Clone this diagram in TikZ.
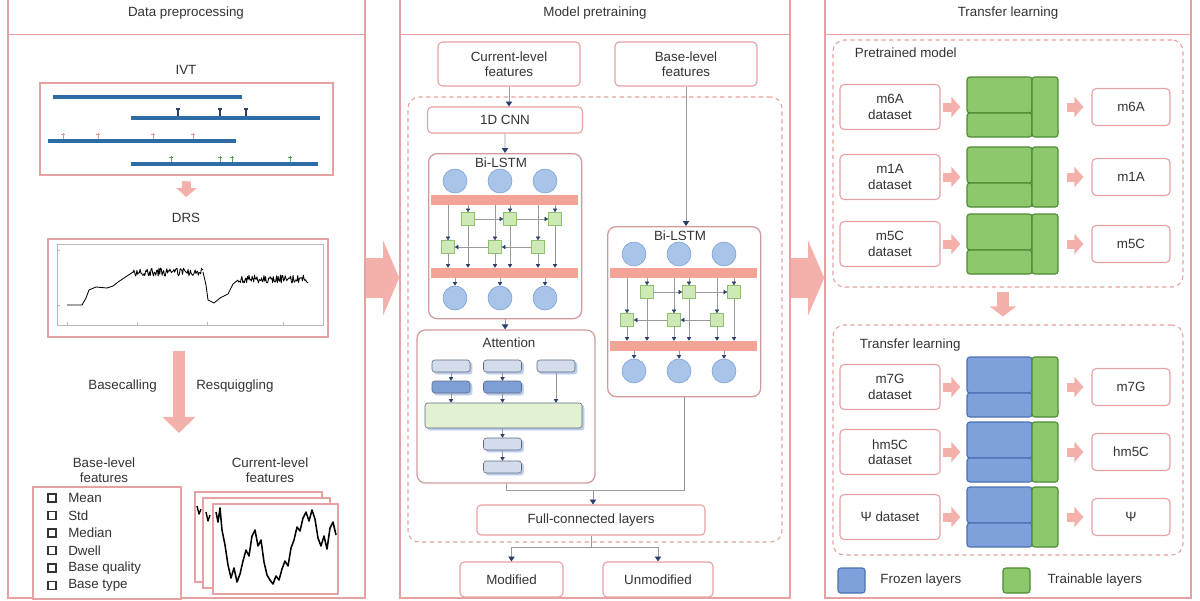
\documentclass[tikz,border=0pt]{standalone}
\usepackage{fontspec}
\setmainfont{Liberation Sans}
\usetikzlibrary{arrows.meta,positioning,calc,shadows}

\newlength\pxu
\setlength\pxu{0.025cm}

\definecolor{panelpink}{HTML}{E6A2A2}
\definecolor{arrowpink}{HTML}{F4B0AA}
\definecolor{bandpink}{HTML}{F3A497}
\definecolor{ivtblue}{HTML}{2D6CA5}
\definecolor{cellblue}{HTML}{A8C4E9}
\definecolor{cellline}{HTML}{7C9FD1}
\definecolor{gatefill}{HTML}{CFE8B8}
\definecolor{gateline}{HTML}{8EC26E}
\definecolor{trainfill}{HTML}{8DC96C}
\definecolor{trainline}{HTML}{4D8A33}
\definecolor{frozenfill}{HTML}{7FA1DB}
\definecolor{frozenline}{HTML}{4C70B2}
\definecolor{headblue}{HTML}{2A3F6B}
\definecolor{linegray}{HTML}{9A9A9A}
\definecolor{textgray}{HTML}{333333}
\definecolor{qfill}{HTML}{D3DCEA}
\definecolor{qline}{HTML}{5C6B82}
\definecolor{kfill}{HTML}{7E9ED6}
\definecolor{barfill}{HTML}{E3F1D3}
\definecolor{shadowblue}{HTML}{BCCDEB}

\begin{document}
\begin{tikzpicture}[
    x=0.025cm, y=-0.025cm,
    font=\fontsize{9.5}{11}\selectfont, text=textgray,
    panel/.style={draw=panelpink, line width=1.1pt, inner sep=0pt},
    framebox/.style={draw=panelpink, line width=0.9pt, fill=white, inner sep=0pt},
    featbox/.style={draw=panelpink, rounded corners=3pt, line width=0.8pt, fill=white, align=center, inner sep=0pt},
    dashbox/.style={draw=panelpink, dash pattern=on 3pt off 2.5pt, rounded corners=8pt, line width=0.8pt, inner sep=0pt},
    lstmbox/.style={draw=panelpink!80!gray, rounded corners=6pt, line width=0.9pt, inner sep=0pt},
    cell/.style={circle, draw=cellline, fill=cellblue, minimum size=24\pxu, inner sep=0pt},
    band/.style={fill=bandpink, minimum width=147\pxu, minimum height=10\pxu, inner sep=0pt},
    gate/.style={draw=gateline, fill=gatefill, minimum size=13\pxu, inner sep=0pt},
    flow/.style={draw=linegray, line width=0.6pt, -{Triangle[width=4.5pt,length=3.5pt,color=headblue]}},
    tiny/.style={draw=linegray, line width=0.4pt, -{Triangle[width=3pt,length=2.5pt,color=headblue]}},
    link/.style={draw=linegray, line width=0.6pt},
    pinkarrow/.style={draw=arrowpink, line width=6.4pt, -{Triangle[width=14.2pt,length=6.4pt]}},
    bigarrow/.style={draw=arrowpink, line width=28.5pt, -{Triangle[width=52.6pt,length=11.4pt]}},
    qbox/.style={draw=qline, fill=qfill, rounded corners=2pt, minimum width=38\pxu, minimum height=12\pxu, inner sep=0pt,
        copy shadow={shadow xshift=1.5pt, shadow yshift=-1.5pt, draw=shadowblue, fill=shadowblue}},
    kbox/.style={qbox, fill=kfill},
    layer/.style={draw=#1line, fill=#1fill, rounded corners=2pt, line width=0.8pt, inner sep=0pt},
    bullet/.style={draw=textgray, line width=1.2pt, fill=white, minimum size=8\pxu, inner sep=0pt},
    trace/.style={draw=black, line width=0.6pt, line join=round}
]
\useasboundingbox (0,0) rectangle (1200,600);

% Panels
\node[panel, minimum width=357\pxu, minimum height=610\pxu] (prep) at (186.5,293) {};
\node[panel, minimum width=390\pxu, minimum height=610\pxu] (pretrain) at (595,293) {};
\node[panel, minimum width=366\pxu, minimum height=610\pxu] (tlearn) at (1008,293) {};

\node (prep-title) at (186,13) {Data preprocessing};
\node (pretrain-title) at (595,13) {Model pretraining};
\node (tlearn-title) at (1008,13) {Transfer learning};
\draw[panelpink, line width=0.6pt] (prep.west |- 0,34) -- (prep.east |- 0,34);
\draw[panelpink, line width=0.6pt] (pretrain.west |- 0,34) -- (pretrain.east |- 0,34);
\draw[panelpink, line width=0.6pt] (tlearn.west |- 0,34) -- (tlearn.east |- 0,34);

\draw[bigarrow] ([yshift=10.7pt]prep.east) -- ([yshift=10.7pt]pretrain.west);
\draw[bigarrow] ([yshift=10.7pt]pretrain.east) -- ([yshift=10.7pt]tlearn.west);

% ---- Data preprocessing ----
\node (ivt-label) at (186,70) {IVT};
\node[framebox, minimum width=293\pxu, minimum height=92\pxu] (ivt) at (186.5,129) {};
\draw[ivtblue, line width=3.5pt] (53,97) -- (242,97);
\draw[ivtblue, line width=3.5pt] (131,118) -- (320,118);
\draw[ivtblue, line width=3.5pt] (48,141) -- (236,141);
\draw[ivtblue, line width=3.5pt] (131,164) -- (318,164);
\foreach \x in {178,220,246}
    \draw[headblue, line width=0.8pt] (\x,116) -- (\x,108) (\x-2,109) -- (\x+2,109);
\foreach \x in {63,98,153,193}
    \draw[panelpink!90!red, line width=0.6pt] (\x,139) -- (\x,133) (\x-2,134) -- (\x+2,134);
\foreach \x in {171,220,232,290}
    \draw[gray!70!green, line width=0.6pt] (\x,162) -- (\x,156) (\x-2,157) -- (\x+2,157);

\node (drs-label) at (186,218) {DRS};
\draw[pinkarrow, shorten <=4pt, shorten >=8pt] (ivt.south) -- (drs-label.north);
\node[framebox, line width=1.4pt, minimum width=280\pxu, minimum height=98\pxu] (drs) at (188,288) {};
\draw[gray!55, line width=0.4pt] (57,244) rectangle (323,325);
\foreach \x in {67,137,207,283}
    \draw[gray!55, line width=0.4pt] (\x,325) -- (\x,322);
\foreach \y in {250,305}
    \draw[gray!55, line width=0.4pt] (57,\y) -- (60,\y);
\pgfmathsetseed{7}
\draw[trace] (67,305) -- (82,305) -- (86,298) -- (89,290) -- (96,287) -- (107,288) -- (113,286)
    -- (118,282) -- (124,278) -- (133,272);
\draw[trace] plot[domain=133:203, samples=90] (\x,{272+4*rand});
\draw[trace] (203,272) -- (206,285) -- (208,300) -- (214,303) -- (220,298) -- (228,294)
    -- (233,284) -- (238,280);
\draw[trace] plot[domain=238:308, samples=90] (\x,{279+4*rand});

\coordinate (feat-split) at (179,433);
\draw[pinkarrow, line width=8.5pt, -{Triangle[width=22.8pt,length=11.4pt]}, shorten <=9pt]
    (drs.south -| feat-split) -- (feat-split);
\node[anchor=east, inner sep=0pt] (basecall) at (157,386) {Basecalling};
\node[anchor=west, inner sep=0pt] (resquig) at (196,386) {Resquiggling};

\node[align=center] (base-label) at (104,470) {Base-level\\features};
\node[align=center] (cur-label) at (270,470) {Current-level\\features};

\node[framebox, minimum width=148\pxu, minimum height=112\pxu] (basefeat) at (107,543) {};
\foreach \i/\t in {1/Mean, 2/Std, 3/Median, 4/Dwell, 5/Base quality, 6/Base type} {
    \node[bullet] (bul-\i) at (52,480.5+17.5*\i) {};
    \node[anchor=west, inner sep=0pt] (feat-\i) at (68,480.5+17.5*\i) {\t};
}

\node[framebox, minimum width=127\pxu, minimum height=90\pxu] (cur-back) at (258.5,537) {};
\draw[trace, line width=1pt] (197,506) -- (199,514) -- (201,509);
\node[framebox, minimum width=127\pxu, minimum height=90\pxu] (cur-mid) at (266.5,543) {};
\draw[trace, line width=1pt] (206,512) -- (208,521) -- (210,515);
\node[framebox, minimum width=125\pxu, minimum height=90\pxu] (cur-front) at (275.5,549) {};
\draw[trace, line width=1.1pt] (216,512) -- (218,522) -- (220,508) -- (222,530) -- (225,545) -- (228,565)
    -- (231,578) -- (234,568) -- (237,582) -- (240,574) -- (243,561) -- (246,550) -- (249,556)
    -- (252,536) -- (255,530) -- (258,546) -- (261,540) -- (264,562) -- (267,575) -- (270,580)
    -- (273,584) -- (276,576) -- (279,580) -- (282,569) -- (285,561) -- (288,566) -- (291,548)
    -- (294,540) -- (297,527) -- (300,531) -- (303,518) -- (306,512) -- (309,521) -- (312,510)
    -- (315,519) -- (318,538) -- (321,546) -- (324,536) -- (327,549) -- (330,528) -- (333,522)
    -- (336,535);

% ---- Model pretraining ----
\node[featbox, minimum width=142\pxu, minimum height=44\pxu] (cur-in) at (509,64) {Current-level\\features};
\node[featbox, minimum width=142\pxu, minimum height=44\pxu] (base-in) at (686,64) {Base-level\\features};
\node[dashbox, minimum width=374\pxu, minimum height=445\pxu] (model) at (595,319.5) {};
\node[featbox, minimum width=155\pxu, minimum height=26\pxu] (cnn) at (505,120) {1D CNN};

% Bi-LSTM blocks
\foreach \nm/\bx/\by/\bh in {a/428/153/165, b/607/226/170} {
    \begin{scope}[shift={(\bx,\by)}]
        \node[lstmbox, minimum width=153\pxu, minimum height=\bh\pxu, anchor=north west] (\nm-box) at (0,0) {};
        \node (\nm-title) at (73,10) {Bi-LSTM};
        \node[band] (\nm-band1) at (76.5,47) {};
        \node[band] (\nm-band2) at (76.5,120) {};
        \foreach \i/\cx in {1/27, 2/72, 3/117} {
            \node[cell] (\nm-in-\i) at (\cx,28) {};
            \node[cell] (\nm-out-\i) at (\cx,145) {};
        }
        \foreach \i/\fx/\gx in {1/40/20, 2/82/67, 3/127/110} {
            \node[gate] (\nm-f-\i) at (\fx,66) {};
            \node[gate] (\nm-b-\i) at (\gx,94) {};
            \draw[tiny] (\nm-band1.south -| \nm-f-\i) -- (\nm-f-\i.north);
            \draw[tiny] (\nm-band1.south -| \nm-b-\i) -- (\nm-b-\i.north);
            \draw[tiny] (\nm-f-\i.south) -- (\nm-f-\i.south |- \nm-band2.north);
            \draw[tiny] (\nm-b-\i.south) -- (\nm-b-\i.south |- \nm-band2.north);
            \draw[tiny] (\nm-band2.south -| \nm-out-\i) -- (\nm-out-\i.north);
        }
        \draw[tiny] (\nm-f-1) -- (\nm-f-2);
        \draw[tiny] (\nm-f-2) -- (\nm-f-3);
        \draw[tiny] (\nm-b-3) -- (\nm-b-2);
        \draw[tiny] (\nm-b-2) -- (\nm-b-1);
    \end{scope}
}

% Attention
\node[lstmbox, minimum width=178\pxu, minimum height=153\pxu] (attn) at (506,406.5) {};
\node (attn-title) at (509,343) {Attention};
\node[qbox] (q1) at (451,366) {};
\node[qbox] (q2) at (502.5,366) {};
\node[qbox] (q3) at (556,366) {};
\node[kbox] (k1) at (451,387) {};
\node[kbox] (k2) at (502.5,387) {};
\node[qbox, fill=barfill, minimum width=157\pxu, minimum height=25\pxu] (score) at (503.5,415.5) {};
\node[qbox] (o1) at (502.5,444) {};
\node[qbox] (o2) at (502.5,467) {};
\draw[tiny] (q1) -- (k1);
\draw[tiny] (q2) -- (k2);
\draw[tiny] (k1) -- (k1 |- score.north);
\draw[tiny] (k2) -- (k2 |- score.north);
\draw[tiny] (q3) -- (q3 |- score.north);
\draw[tiny] (score.south -| o1) -- (o1);
\draw[tiny] (o1) -- (o2);

% Connections
\draw[flow] (cur-in.south) -- (cur-in.south |- cnn.north);
\draw[flow] (cnn) -- (a-box);
\draw[flow] (a-box.south) -- (a-box.south |- attn.north);
\draw[flow] (base-in.south) -- (base-in.south |- b-box.north);

\node[featbox, minimum width=228\pxu, minimum height=30\pxu] (fc) at (591,520) {Full-connected layers};
\coordinate (join) at (593,490);
\draw[link] (attn.south) |- (join);
\draw[link] (b-box.south) |- (join);
\draw[flow] (join) -- (join |- fc.north);

\node[featbox, minimum width=103\pxu, minimum height=35\pxu] (mod) at (511.5,579.5) {Modified};
\node[featbox, minimum width=110\pxu, minimum height=35\pxu] (unmod) at (658,579.5) {Unmodified};
\coordinate (fc-split) at (591,547);
\draw[link] (fc.south) -- (fc-split);
\draw[flow] (fc-split) -| (mod.north);
\draw[flow] (fc-split) -| (unmod.north);

% ---- Transfer learning ----
\node[dashbox, minimum width=350\pxu, minimum height=247\pxu] (pretrained-box) at (1008,163.5) {};
\node[anchor=west] (pretrained-title) at (850,53) {Pretrained model};
\node[dashbox, minimum width=350\pxu, minimum height=230\pxu] (finetune-box) at (1008,440) {};
\node[anchor=west] (finetune-title) at (855,345) {Transfer learning};
\draw[pinkarrow, line width=8.5pt, -{Triangle[width=18.5pt,length=7.1pt]}, shorten <=3.5pt, shorten >=5.7pt]
    ([xshift=-3.6pt]pretrained-box.south) -- ([xshift=-3.6pt]finetune-box.north);

\foreach \nm/\cy/\ds/\res/\kind in {m6a/107/m6A\\dataset/m6A/train, m1a/177/m1A\\dataset/m1A/train,
        m5c/244/m5C\\dataset/m5C/train, m7g/387/m7G\\dataset/m7G/frozen,
        hm5c/452/hm5C\\dataset/hm5C/frozen, psi/517/Ψ dataset/Ψ/frozen} {
    \node[featbox, minimum width=100\pxu, minimum height=45\pxu] (\nm-ds) at (890,\cy) {\ds};
    \node[layer=\kind, minimum width=65\pxu, minimum height=36\pxu] (\nm-fa) at (999.5,\cy-12) {};
    \node[layer=\kind, minimum width=65\pxu, minimum height=24\pxu] (\nm-fb) at (999.5,\cy+18) {};
    \node[layer=train, minimum width=26\pxu, minimum height=60\pxu] (\nm-tr) at (1045,\cy) {};
    \node[featbox, minimum width=78\pxu, minimum height=37\pxu] (\nm-res) at (1131,\cy) {\res};
    \draw[pinkarrow, shorten <=2pt, shorten >=4.3pt] (\nm-ds.east) -- (\nm-ds.east -| \nm-fa.west);
    \draw[pinkarrow, shorten <=5.7pt, shorten >=5.7pt] (\nm-tr.east) -- (\nm-res.west);
}

% Legend
\node[layer=frozen, minimum width=27\pxu, minimum height=25\pxu] (key-frozen) at (851.5,580.5) {};
\node[right=7pt of key-frozen] (key-frozen-text) {Frozen layers};
\node[layer=train, minimum width=27\pxu, minimum height=25\pxu] (key-train) at (1016.5,580.5) {};
\node[right=8.5pt of key-train] (key-train-text) {Trainable layers};

\end{tikzpicture}
\end{document}
